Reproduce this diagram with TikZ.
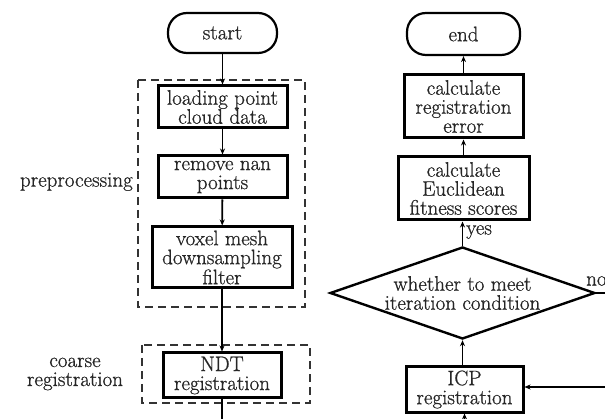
\documentclass[tikz,border=0pt]{standalone}
\usepackage{fontspec}
\setmainfont{Latin Modern Roman}[FakeBold=0.8]
\usetikzlibrary{shapes.geometric,arrows.meta}
\begin{document}
\begin{tikzpicture}[x=1pt,y=-1pt,
  every node/.style={font=\fontsize{21}{19}\selectfont, text=black!85},
  procbox/.style={draw=black, line width=3pt, inner sep=0pt, align=center},
  termbox/.style={draw=black, line width=2.2pt, rounded corners=19pt, inner sep=0pt},
  groupbox/.style={draw=black!80, line width=2pt, dash pattern=on 8pt off 5pt},
  conn/.style={draw=black, line width=1.8pt},
  arr/.style={conn, -{Stealth[length=6pt,width=5pt]}},
  lbl/.style={inner sep=0pt, align=center}]
\useasboundingbox (0,0) rectangle (605,419);
% groups
\draw[groupbox] (138,80) rectangle (305,307);
\draw[groupbox] (142,345) rectangle (310,403);
% left column
\node[termbox, minimum width=109pt, minimum height=40pt] (start) at (222.5,33) {start};
\node[procbox, minimum width=129pt, minimum height=42pt] (load) at (222.5,107) {loading point\\cloud data};
\node[procbox, minimum width=129pt, minimum height=42pt] (nan) at (222.5,177) {remove nan\\points};
\node[procbox, minimum width=140pt, minimum height=61pt] (voxel) at (222,257.5) {voxel mesh\\downsampling\\filter};
\node[procbox, minimum width=118pt, minimum height=45pt] (ndt) at (222,375.5) {NDT\\registration};
\node[lbl, anchor=east] (pre) at (133,182) {preprocessing};
\node[lbl] (coarse) at (75,374) {coarse\\registration};
\coordinate (ndtout) at (222,425);
% right column
\node[termbox, minimum width=113pt, minimum height=42pt] (end) at (463.5,34) {end};
\node[procbox, minimum width=119pt, minimum height=63pt] (err) at (463.5,106.5) {calculate\\registration\\error};
\node[procbox, minimum width=131pt, minimum height=63pt] (fit) at (463.5,188.5) {calculate\\Euclidean\\fitness scores};
\node[diamond, aspect=2.88, draw=black, line width=2.4pt, inner sep=0pt, align=center,
      minimum width=265pt, minimum height=92pt] (cond) at (462.5,293) {whether to meet\\iteration condition};
\node[procbox, minimum width=117pt, minimum height=45pt] (icp) at (464.5,389.5) {ICP\\registration};
\node[lbl, anchor=west] (yes) at (466,232) {yes};
\node[lbl, anchor=west] (no) at (586,281) {no};
\coordinate (icpin) at (464.5,425);
\coordinate (noout) at (612,293);
\coordinate (loopin) at (612,387);
% connectors
\draw[arr] (start) -- (load);
\draw[arr] (load) -- (nan);
\draw[arr] (nan) -- (voxel);
\draw[arr] (voxel) -- (ndt);
\draw[conn] (ndt) -- (ndtout);
\draw[arr] (fit) -- (err);
\draw[arr] (err) -- (end);
\draw[arr] (cond.north) -- (fit.south -| cond.north);
\draw[arr] (icp.north -| cond.south) -- (cond.south);
\draw[arr] (icpin) -- (icp.south);
\draw[conn] (cond.east) -- (noout);
\draw[arr] (loopin) -- (icp.east |- loopin);
\end{tikzpicture}
\end{document}
